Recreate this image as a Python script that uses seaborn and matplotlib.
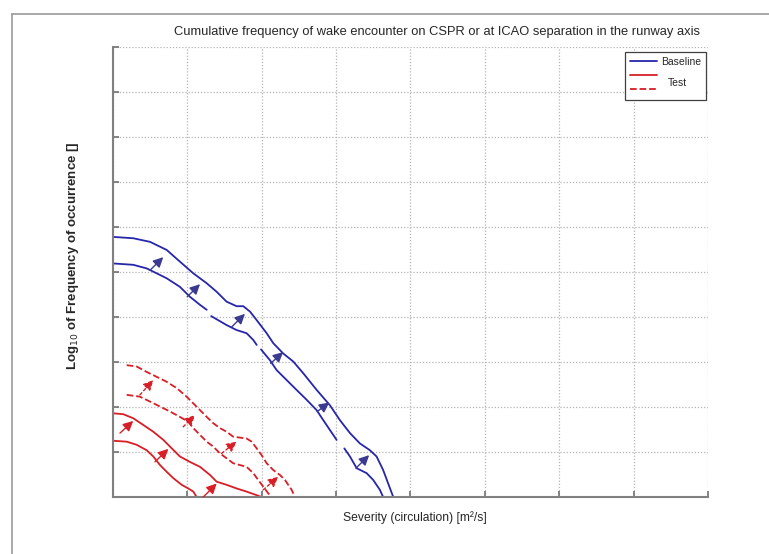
import numpy as np
import pandas as pd
import matplotlib
matplotlib.use("Agg")
import matplotlib.pyplot as plt
import seaborn as sns
from matplotlib.lines import Line2D

# Severity (circulation) [m^2/s] vs log10 of cumulative frequency.
# NaN entries mark breaks in a curve.
base_upper_x = [0, 13.6, 24.9, 36.1, 45.0, 54.0, 63.0, 69.7, 76.4, 83.1, 87.6, 92.1,
                96.6, 103.3, 107.7, 114.4, 121.2, 127.9, 136.9, 145.8, 152.5, 159.3,
                166.0, 172.7, 177.2, 181.6, 185.0, 188.4]
base_upper_y = [-4.22, -4.25, -4.33, -4.51, -4.77, -5.03, -5.25, -5.44, -5.66, -5.76,
                -5.76, -5.88, -6.07, -6.36, -6.58, -6.81, -6.99, -7.25, -7.62, -7.96,
                -8.29, -8.58, -8.81, -8.96, -9.10, -9.40, -9.70, -10.0]

base_lower_x = [0, 13.6, 22.6, 29.4, 36.1, 45.0, 51.7, 58.5, 63.0, np.nan,
                66.0, 76.4, 83.1, 89.8, 94.3, 96.6, np.nan,
                99.5, 105.5, 110.0, 116.7, 123.4, 130.2, 136.9, 141.3, 145.8, 150.3, np.nan,
                155.5, 159.3, 163.8, 170.5, 174.9, 179.4, 181.6]
base_lower_y = [-4.81, -4.84, -4.92, -5.03, -5.14, -5.33, -5.55, -5.73, -5.84, np.nan,
                -5.98, -6.18, -6.29, -6.36, -6.51, -6.62, np.nan,
                -6.72, -6.96, -7.18, -7.40, -7.62, -7.84, -8.07, -8.29, -8.51, -8.73, np.nan,
                -8.92, -9.10, -9.36, -9.47, -9.62, -9.84, -10.0]

test_upper_x = [0, 6.9, 13.6, 20.4, 27.1, 33.8, 38.3, 45.0, 51.7, 58.5, 65.2, 69.7,
                76.4, 83.1, 89.8, 96.6, 99.9]
test_upper_y = [-8.14, -8.16, -8.25, -8.40, -8.55, -8.73, -8.88, -9.10, -9.22, -9.33,
                -9.51, -9.66, -9.73, -9.81, -9.88, -9.96, -10.0]

test_lower_x = [0, 9.2, 15.9, 22.6, 27.1, 31.6, 36.1, 40.5, 46.2, 50.6, 54.0, 56.2]
test_lower_y = [-8.75, -8.77, -8.84, -8.96, -9.10, -9.29, -9.44, -9.58, -9.73, -9.81,
                -9.88, -10.0]

alt_upper_x = [9.2, 15.9, 22.6, 29.4, 36.1, 42.8, 49.5, 58.5, 63.0, 67.4, 71.9, 76.4,
               80.8, 85.3, 89.8, 93.2, 96.6, 99.9, 103.3, 107.7, 112.2, 115.6, 117.8,
               120.1, 122.3]
alt_upper_y = [-7.07, -7.10, -7.22, -7.33, -7.44, -7.58, -7.77, -8.07, -8.22, -8.36,
               -8.47, -8.55, -8.66, -8.68, -8.70, -8.77, -8.92, -9.07, -9.25, -9.40,
               -9.51, -9.62, -9.73, -9.84, -10.0]

alt_lower_x = [9.2, 18.1, 24.9, 31.6, 38.3, 45.0, 50.6, 54.0, 58.5, 63.0, 67.4, 71.9,
               76.4, 80.8, 85.3, 89.8, 94.3, 97.6, 101.0, 104.4, 106.6]
alt_lower_y = [-7.73, -7.77, -7.88, -7.99, -8.10, -8.22, -8.33, -8.47, -8.62, -8.77,
               -8.88, -9.03, -9.14, -9.25, -9.29, -9.33, -9.47, -9.62, -9.77, -9.92, -10.0]

# Shift arrows between the paired curves: (x0, y0) -> (x1, y1)
base_arrow_x0 = [24.9, 49.9, 79.8, 106.0, 137.3, 163.3]
base_arrow_y0 = [-4.96, -5.55, -6.22, -7.03, -8.10, -9.36]
base_arrow_x1 = [33.8, 58.5, 88.7, 114.4, 145.4, 172.2]
base_arrow_y1 = [-4.67, -5.27, -5.93, -6.78, -7.90, -9.07]

test_arrow_x0 = [4.7, 28.2, 60.7]
test_arrow_y0 = [-8.58, -9.22, -10.0]
test_arrow_x1 = [13.6, 37.2, 69.7]
test_arrow_y1 = [-8.31, -8.93, -9.70]

alt_arrow_x0 = [18.1, 47.2, 73.0, 101.0]
alt_arrow_y0 = [-7.73, -8.44, -9.03, -9.84]
alt_arrow_x1 = [27.1, 55.1, 83.1, 111.1]
alt_arrow_y1 = [-7.40, -8.18, -8.77, -9.55]

legend_labels = ["Baseline", "Test", " "]

x_ticks = np.arange(0, 401, 50)
y_ticks = np.arange(-10, 0.5, 1)

BLUE = "#2626aa"
RED = "#d81e26"
BLUE_ARROW = "#3a3a90"

sns.set_style("white")
plt.rcParams["font.family"] = ["Liberation Sans", "DejaVu Sans"]

fig = plt.figure(figsize=(7.69, 5.54), dpi=100)
ax = fig.add_axes([113 / 769, 57 / 554, 595 / 769, 450 / 554])


def segments(xs, ys):
    """Split a NaN-separated curve into a long table with a segment id."""
    seg, rows = 0, []
    for x, y in zip(xs, ys):
        if np.isnan(x):
            seg += 1
            continue
        rows.append((x, y, seg))
    return pd.DataFrame(rows, columns=["x", "y", "seg"])


def draw(xs, ys, color, ls="-"):
    df = segments(xs, ys)
    sns.lineplot(data=df, x="x", y="y", units="seg", estimator=None, sort=False,
                 color=color, linewidth=1.3, linestyle=ls, ax=ax, legend=False)


draw(base_upper_x, base_upper_y, BLUE)
draw(base_lower_x, base_lower_y, BLUE)
draw(test_upper_x, test_upper_y, RED)
draw(test_lower_x, test_lower_y, RED)
draw(alt_upper_x, alt_upper_y, RED, "--")
draw(alt_lower_x, alt_lower_y, RED, "--")


def arrows(x0s, y0s, x1s, y1s, color, ls="-"):
    for x0, y0, x1, y1 in zip(x0s, y0s, x1s, y1s):
        ax.annotate("", xy=(x1, y1), xytext=(x0, y0),
                    arrowprops=dict(arrowstyle="-|>,head_length=0.6,head_width=0.3",
                                    color=color, lw=1.0, linestyle=ls,
                                    shrinkA=0, shrinkB=0))


arrows(base_arrow_x0, base_arrow_y0, base_arrow_x1, base_arrow_y1, BLUE_ARROW)
arrows(test_arrow_x0, test_arrow_y0, test_arrow_x1, test_arrow_y1, RED)
arrows(alt_arrow_x0, alt_arrow_y0, alt_arrow_x1, alt_arrow_y1, RED, (0, (2, 2)))

ax.set_xlim(0, 400)
ax.set_ylim(-10, 0)
ax.set_xticks(x_ticks)
ax.set_yticks(y_ticks)
ax.set_xticklabels([])
ax.set_yticklabels([])
ax.set_xlabel("")
ax.set_ylabel("")
ax.tick_params(direction="in", length=4, width=1.2, color="#707070",
               bottom=True, left=True, top=False, right=False)
ax.grid(True, linestyle=(0, (1, 1.5)), color="#b4b4b4", linewidth=0.9)
for side in ("top", "right"):
    ax.spines[side].set_visible(False)
for side in ("left", "bottom"):
    ax.spines[side].set_color("#808080")
    ax.spines[side].set_linewidth(1.5)

# Legend: baseline, test, and the dashed test variant sharing the "Test" label
h_base = Line2D([], [], color=BLUE, linewidth=1.3)
h_test = Line2D([], [], color=RED, linewidth=1.3)
h_alt = Line2D([], [], color=RED, linewidth=1.3, linestyle="--")
leg = ax.legend([h_base, h_test, h_alt], legend_labels,
                loc="upper right", bbox_to_anchor=(706 / 769, 1 - 52 / 554),
                bbox_transform=fig.transFigure, fontsize=7.5, frameon=True,
                fancybox=False, framealpha=1, edgecolor="#404040",
                handlelength=2.6, handletextpad=0.4, borderpad=0.45,
                labelspacing=0.4, borderaxespad=0)
leg.get_frame().set_linewidth(0.9)
test_txt = leg.get_texts()[1]
test_txt.set_position((7, -7))

fig.text(437 / 769, 1 - 32 / 554,
         "Cumulative frequency of wake encounter on CSPR or at ICAO separation in the runway axis",
         ha="center", va="center", fontsize=9.3)
fig.text(415 / 769, 1 - 518 / 554, "Severity (circulation) [m\u00b2/s]",
         ha="center", va="center", fontsize=8.7)
fig.text(73 / 769, 1 - 256 / 554, "Log$_{10}$ of Frequency of occurrence []",
         ha="center", va="center", rotation=90, fontsize=9.5, fontweight="bold")

# Outer frame of the figure panel
fig.add_artist(Line2D([12 / 769, 12 / 769], [0, 1 - 14 / 554],
                      transform=fig.transFigure, color="#999999", linewidth=1.2))
fig.add_artist(Line2D([12 / 769, 1], [1 - 14 / 554, 1 - 14 / 554],
                      transform=fig.transFigure, color="#999999", linewidth=1.2))

fig.savefig("out.png", dpi=100)
